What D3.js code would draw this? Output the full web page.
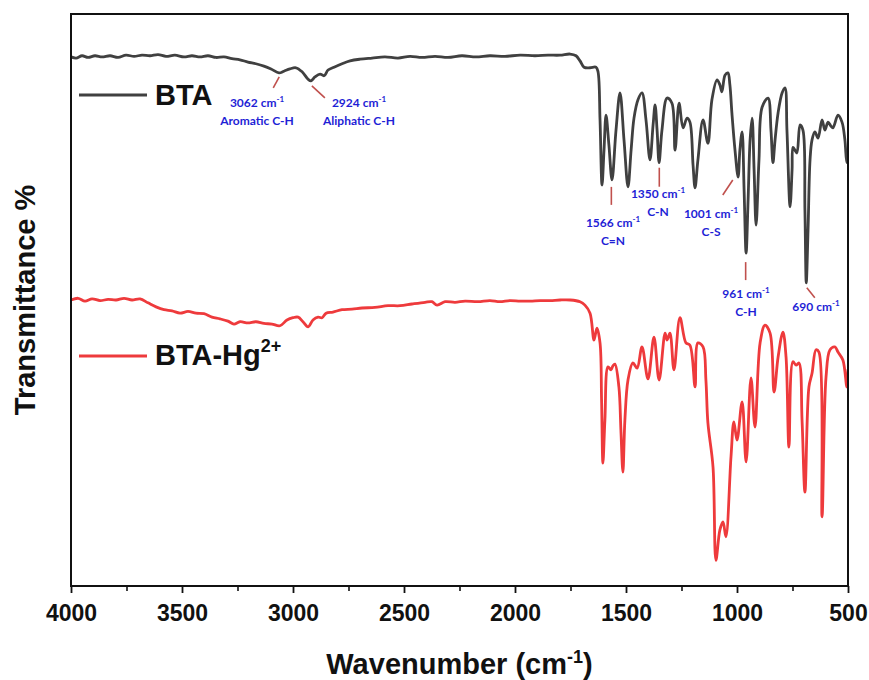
<!DOCTYPE html>
<html>
<head>
<meta charset="utf-8">
<script src="https://cdn.jsdelivr.net/npm/d3@7/dist/d3.min.js"></script>
<style>
  html, body { margin: 0; padding: 0; background: #fff; }
  svg { display: block; }
  .axis text { font-family: Arial, "Liberation Sans", sans-serif; font-weight: bold; }
  .note { font-family: Lato, "Open Sans", sans-serif; font-weight: bold; fill: #1f1fd6; }
</style>
</head>
<body>
<svg id="chart" width="869" height="680"></svg>
<script>
// FTIR spectra: wavenumber (cm^-1) and transmittance (arbitrary offset units)
const btaWavenumber = [4000,3977,3950,3923,3892,3860,3824,3788,3752,3716,3680,3644,3608,3572,3532,3491,3455,3419,3383,3347,3311,3275,3239,3203,3167,3131,3099,3063,3041,3014,2987,2959,2932,2919,2901,2878,2860,2842,2815,2779,2743,2698,2644,2586,2527,2473,2419,2360,2302,2239,2176,2113,2045,1977,1910,1851,1797,1752,1725,1707,1689,1662,1635,1626,1617,1608,1599,1590,1577,1563,1545,1527,1509,1491,1477,1464,1446,1428,1410,1392,1378,1369,1360,1351,1338,1315,1293,1279,1261,1243,1225,1212,1198,1189,1176,1153,1131,1113,1090,1077,1068,1054,1041,1032,1023,1009,995,987,977,968,959,950,941,932,923,914,901,887,860,847,838,829,815,797,784,775,761,752,748,739,730,716,703,694,688,680,671,662,649,635,617,604,590,577,568,545,527,514,505,500];
const btaTransmittance = [92.5,92.3,92.7,92.4,92.7,92.5,92.7,92.4,92.8,92.6,92.8,92.7,92.9,92.6,92.8,92.5,92.7,92.5,92.7,92.4,92.5,92.2,92.0,91.6,91.3,90.9,90.4,89.7,90.0,90.4,90.6,89.9,88.6,88.3,89.0,89.5,89.2,90.2,90.7,91.3,91.8,92.1,92.3,92.5,92.3,92.6,92.4,92.6,92.4,92.7,92.5,92.7,92.6,92.8,92.7,92.8,92.8,93.0,92.7,91.8,90.7,90.6,90.7,89.9,81.5,70.1,76.2,82.3,77.1,71.0,79.7,86.2,78.0,69.8,76.2,81.8,85.0,86.2,81.5,74.5,80.6,84.1,79.7,74.0,79.7,85.3,84.4,76.2,84.4,80.1,81.8,81.1,73.6,69.6,74.5,81.5,77.4,85.0,88.5,87.6,86.4,89.3,89.7,87.6,82.7,76.2,71.5,76.2,79.4,69.2,58.2,67.5,78.0,81.8,72.7,63.1,74.5,83.7,85.3,79.7,74.0,77.8,82.7,86.2,87.1,79.7,66.3,72.7,76.7,76.2,75.7,80.6,79.7,65.7,53.0,62.2,74.5,78.0,79.4,78.3,81.5,79.7,81.1,80.4,80.1,82.3,81.1,78.0,74.0,74.5];

const hgWavenumber = [4000,3968,3937,3905,3869,3833,3797,3761,3725,3689,3653,3617,3581,3545,3509,3473,3437,3401,3365,3329,3293,3266,3239,3203,3167,3131,3095,3059,3027,3000,2977,2955,2932,2910,2887,2869,2851,2820,2779,2734,2689,2631,2572,2518,2464,2405,2374,2351,2315,2270,2225,2167,2113,2068,2023,1977,1932,1887,1842,1797,1752,1707,1685,1662,1644,1631,1617,1610,1604,1595,1581,1568,1559,1550,1532,1523,1514,1505,1491,1469,1450,1428,1401,1374,1351,1324,1315,1302,1284,1257,1230,1212,1189,1176,1153,1140,1131,1108,1095,1077,1063,1050,1027,1014,1000,977,959,937,919,896,874,851,833,815,793,779,766,748,734,721,707,694,676,662,644,631,617,599,581,559,545,523,505,500];
const hgTransmittance = [50.0,50.3,49.8,50.2,49.9,50.1,50.0,50.3,50.0,50.2,49.5,48.8,48.3,48.1,47.7,48.0,47.7,47.6,47.0,46.7,46.3,45.8,46.2,46.0,46.2,45.9,45.8,45.5,46.5,46.9,47.0,46.2,45.3,46.5,47.0,46.9,47.7,47.9,48.3,48.4,48.6,48.7,49.0,49.0,49.3,49.6,49.7,49.1,49.7,49.6,49.8,49.7,49.9,49.7,49.9,49.8,49.8,49.9,49.9,50.0,50.0,49.7,49.1,47.7,43.0,45.1,42.5,32.5,21.5,29.0,38.3,37.8,38.5,38.8,34.8,27.3,19.9,29.0,36.0,39.0,38.1,41.8,36.2,43.5,36.0,44.2,43.0,44.2,37.8,46.9,42.5,42.1,34.8,42.5,41.8,36.0,28.5,20.8,4.5,9.8,11.2,8.6,22.6,28.7,25.5,32.2,21.7,36.4,27.8,42.5,45.6,44.2,33.9,40.0,44.4,40.0,24.3,39.2,38.6,39.0,29.0,16.4,34.8,37.2,41.3,40.9,12.1,36.5,41.3,41.8,40.9,39.5,34.8,37.8];

const seriesNames = ["BTA", "BTA-Hg"];
const seriesColors = ["#404040", "#ee3a3c"];
const majorTicks = [4000, 3500, 3000, 2500, 2000, 1500, 1000, 500];
const minorTicks = [3750, 3250, 2750, 2250, 1750, 1250, 750];

// Band assignments on the BTA trace
const bandWavenumber = [3062, 2924, 1566, 1350, 1001, 961, 690];
const bandDepth = [89.7, 88.3, 71.0, 74.0, 71.5, 58.2, 53.0];
const bandLabel = [["3062 cm", "Aromatic C-H"], ["2924 cm", "Aliphatic C-H"], ["1566 cm", "C=N"], ["1350 cm", "C-N"], ["1001 cm", "C-S"], ["961 cm", "C-H"], ["690 cm", null]];

const svg = d3.select("#chart");
const margin = { left: 71, right: 21, top: 14, bottom: 94 };
const W = 869, H = 680;
const x = d3.scaleLinear().domain([4000, 500]).range([margin.left, W - margin.right]);
const y = d3.scaleLinear().domain([0, 100]).range([H - margin.bottom, margin.top]);

svg.append("defs").append("clipPath").attr("id", "plotClip")
  .append("rect").attr("x", x(4000)).attr("y", y(100))
  .attr("width", x(500) - x(4000)).attr("height", y(0) - y(100));

const line = d3.line()
  .x(d => x(d[0])).y(d => y(d[1]))
  .curve(d3.curveCatmullRom.alpha(0.5));

const series = [
  d3.zip(btaWavenumber, btaTransmittance),
  d3.zip(hgWavenumber, hgTransmittance)
];

const plot = svg.append("g").attr("clip-path", "url(#plotClip)");
series.forEach((s, i) => {
  plot.append("path").datum(s)
    .attr("fill", "none")
    .attr("stroke", seriesColors[i])
    .attr("stroke-width", 2.8)
    .attr("stroke-linejoin", "round")
    .attr("stroke-linecap", "round")
    .attr("d", line);
});

// Frame
svg.append("rect")
  .attr("x", x(4000)).attr("y", y(100))
  .attr("width", x(500) - x(4000)).attr("height", y(0) - y(100))
  .attr("fill", "none").attr("stroke", "#111").attr("stroke-width", 2);

// Bottom axis: labelled major ticks plus unlabelled minor ticks
const axisG = svg.append("g").attr("class", "axis")
  .attr("transform", `translate(0,${y(0)})`)
  .call(d3.axisBottom(x).tickValues(majorTicks).tickSize(7).tickPadding(12).tickFormat(d3.format("d")));
axisG.select(".domain").remove();
axisG.selectAll(".tick line").attr("stroke", "#111").attr("stroke-width", 1.8);
axisG.selectAll(".tick text").attr("font-size", 23).attr("fill", "#111");

const minorG = svg.append("g").attr("class", "axis")
  .attr("transform", `translate(0,${y(0)})`)
  .call(d3.axisBottom(x).tickValues(minorTicks).tickSize(5).tickFormat(""));
minorG.select(".domain").remove();
minorG.selectAll(".tick line").attr("stroke", "#111").attr("stroke-width", 1.6);

// Axis titles
const title = svg.append("text")
  .attr("x", (x(4000) + x(500)) / 2).attr("y", 674)
  .attr("text-anchor", "middle")
  .attr("font-family", "Arial, 'Liberation Sans', sans-serif")
  .attr("font-weight", "bold").attr("font-size", 29).attr("fill", "#111");
title.append("tspan").text("Wavenumber (cm");
title.append("tspan").attr("font-size", 18).attr("dy", -11).text("-1");
title.append("tspan").attr("dy", 11).text(")");

svg.append("text")
  .attr("transform", `translate(35,${(y(0) + y(100)) / 2}) rotate(-90)`)
  .attr("text-anchor", "middle")
  .attr("font-family", "Arial, 'Liberation Sans', sans-serif")
  .attr("font-weight", "bold").attr("font-size", 29).attr("fill", "#111")
  .text("Transmittance %");

// Legend entries placed next to each trace
const legendRows = [{ ly: 95, ty: 105 }, { ly: 356, ty: 365 }];
legendRows.forEach((r, i) => {
  svg.append("line")
    .attr("x1", 79).attr("x2", 147).attr("y1", r.ly).attr("y2", r.ly)
    .attr("stroke", seriesColors[i]).attr("stroke-width", 2.8);
  const t = svg.append("text")
    .attr("x", 155).attr("y", r.ty)
    .attr("font-family", "Arial, 'Liberation Sans', sans-serif")
    .attr("font-weight", "bold").attr("font-size", 29).attr("fill", "#111");
  t.append("tspan").text(seriesNames[i]);
  if (i === 1) t.append("tspan").attr("font-size", 18).attr("dy", -13).text("2+");
});

// Band annotations: leader segment below the trace, then the label block
const leaders = [
  { dx1: 0, dy1: 4, dx2: -6, dy2: 15, lx: 257, ly: 107 },
  { dx1: 2, dy1: 5, dx2: 15, dy2: 17, lx: 359, ly: 107 },
  { dx1: 0, dy1: 7, dx2: 0, dy2: 25, lx: 613, ly: 227 },
  { dx1: 0, dy1: 5, dx2: 0, dy2: 24, lx: 658, ly: 198 },
  { dx1: -4, dy1: 3, dx2: -14, dy2: 18, lx: 711, ly: 218 },
  { dx1: 0, dy1: 9, dx2: 0, dy2: 27, lx: 746, ly: 298 },
  { dx1: 1, dy1: 5, dx2: 9, dy2: 15, lx: 816, ly: 311 }
];
bandWavenumber.forEach((wn, i) => {
  const L = leaders[i];
  const px = x(wn), py = y(bandDepth[i]);
  svg.append("line")
    .attr("x1", px + L.dx1).attr("y1", py + L.dy1)
    .attr("x2", px + L.dx2).attr("y2", py + L.dy2)
    .attr("stroke", "#c0504d").attr("stroke-width", 1.6);
  const t = svg.append("text").attr("class", "note")
    .attr("x", L.lx).attr("y", L.ly).attr("text-anchor", "middle").attr("font-size", 12);
  t.append("tspan").text(bandLabel[i][0]);
  t.append("tspan").attr("font-size", 8).attr("dy", -5).text("-1");
  if (bandLabel[i][1]) {
    svg.append("text").attr("class", "note")
      .attr("x", L.lx).attr("y", L.ly + 18).attr("text-anchor", "middle").attr("font-size", 12)
      .text(bandLabel[i][1]);
  }
});
</script>
</body>
</html>
